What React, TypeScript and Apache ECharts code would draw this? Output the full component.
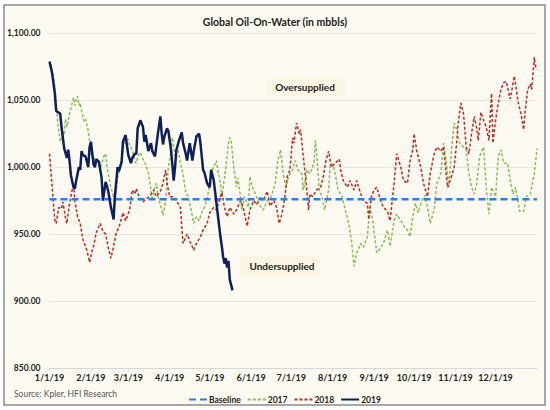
import React, { useEffect, useRef } from "react";
import * as echarts from "echarts";

const monthStartDays = [0, 31, 59, 90, 120, 151, 181, 212, 243, 273, 304, 334];
const monthLabels = ["1/1/19", "2/1/19", "3/1/19", "4/1/19", "5/1/19", "6/1/19", "7/1/19", "8/1/19", "9/1/19", "10/1/19", "11/1/19", "12/1/19"];
const yTicks = [850, 900, 950, 1000, 1050, 1100];

const baselineValue = 976;

// [day of year, mbbls]
const oil2017: [number, number][] = [
  [1, 1077], [3, 1068], [4, 1060], [5, 1048], [6, 1035], [8, 1019], [9, 1022], [10, 1027], [11, 1024], [12, 1036],
  [13, 1030], [15, 1040], [17, 1048], [18, 1052], [19, 1046], [20, 1050], [21, 1053], [22, 1046], [23, 1048], [24, 1042],
  [26, 1034], [27, 1036], [29, 1027], [30, 1020], [31, 1010], [33, 1008], [34, 1005], [36, 1003], [38, 999], [39, 1002],
  [41, 1009], [42, 1010], [43, 1000], [45, 990], [46, 985], [48, 978], [49, 973], [51, 992], [53, 1000], [54, 1007],
  [56, 1018], [57, 1019], [59, 1021], [60, 1016], [62, 1013], [64, 1004], [65, 1003], [66, 1008], [68, 1011], [70, 1006],
  [72, 1002], [74, 996], [75, 990], [77, 975], [78, 982], [80, 988], [81, 979], [83, 972], [85, 964], [87, 975],
  [89, 1000], [91, 1012], [92, 1022], [94, 1008], [96, 1015], [98, 1003], [100, 995], [102, 981], [104, 978], [106, 968],
  [108, 958], [110, 963], [112, 960], [114, 966], [116, 970], [118, 976], [120, 988], [122, 998], [125, 1005], [126, 998],
  [128, 988], [129, 978], [131, 992], [133, 1008], [134, 1018], [135, 1022], [136, 1020], [138, 1000], [140, 985], [141, 992],
  [143, 978], [144, 968], [146, 978], [149, 970], [150, 993], [152, 985], [155, 978], [157, 972], [160, 968], [163, 975],
  [166, 978], [169, 988], [171, 1005], [173, 1013], [175, 995], [177, 985], [179, 993], [182, 998], [184, 1005], [186, 998],
  [189, 995], [190, 983], [193, 998], [195, 995], [198, 1003], [199, 1020], [200, 1010], [202, 983], [204, 978], [206, 968],
  [209, 983], [210, 1000], [212, 1003], [214, 995], [216, 983], [219, 978], [221, 970], [224, 958], [226, 946], [228, 926],
  [230, 936], [233, 943], [235, 940], [238, 948], [239, 960], [240, 970], [242, 960], [245, 936], [248, 940], [250, 943],
  [253, 953], [255, 941], [258, 960], [260, 965], [263, 960], [266, 955], [268, 953], [270, 948], [272, 963], [274, 973],
  [276, 966], [279, 976], [281, 979], [283, 970], [285, 958], [288, 968], [290, 988], [293, 995], [295, 1018], [297, 1005],
  [299, 985], [301, 1013], [303, 1033], [305, 1028], [307, 1018], [310, 1015], [312, 1013], [314, 995], [316, 985], [318, 980],
  [320, 988], [322, 1008], [325, 1015], [327, 985], [329, 965], [331, 985], [334, 978], [336, 1008], [338, 1013], [340, 1003],
  [343, 1003], [345, 990], [347, 980], [349, 985], [352, 967], [355, 967], [357, 978], [360, 980], [363, 995], [365, 1014],
];

const oil2018: [number, number][] = [
  [0, 1010], [2, 985], [4, 960], [5, 958], [7, 970], [9, 969], [10, 974], [12, 962], [13, 958], [15, 973],
  [18, 988], [19, 975], [21, 963], [23, 958], [25, 946], [28, 938], [30, 929], [32, 938], [33, 941], [35, 951],
  [38, 958], [40, 952], [42, 950], [44, 940], [46, 932], [48, 941], [50, 951], [52, 955], [55, 966], [57, 960],
  [60, 968], [62, 983], [64, 980], [65, 984], [67, 978], [70, 974], [72, 976], [75, 978], [78, 983], [80, 978],
  [83, 982], [85, 988], [87, 998], [88, 988], [90, 978], [93, 978], [95, 975], [98, 970], [100, 943], [103, 950],
  [105, 945], [108, 938], [110, 943], [113, 948], [115, 953], [118, 958], [120, 966], [123, 970], [125, 968], [128, 978],
  [129, 981], [131, 970], [133, 963], [135, 970], [138, 965], [140, 968], [143, 975], [145, 970], [148, 956], [150, 968],
  [153, 975], [155, 972], [158, 978], [160, 975], [163, 982], [165, 971], [168, 975], [170, 970], [172, 958], [174, 965],
  [176, 976], [178, 993], [180, 998], [182, 1022], [183, 1018], [185, 1033], [187, 1025], [188, 1028], [190, 1008], [192, 990],
  [194, 968], [195, 980], [197, 978], [200, 983], [203, 985], [205, 993], [207, 1005], [209, 1012], [211, 1000], [214, 1003],
  [217, 1006], [218, 998], [220, 990], [223, 985], [225, 990], [228, 983], [230, 990], [233, 980], [235, 975], [238, 973],
  [239, 961], [241, 978], [243, 983], [245, 985], [248, 975], [250, 970], [253, 967], [255, 960], [258, 988], [260, 1010],
  [263, 1000], [265, 990], [268, 988], [270, 1005], [272, 1013], [273, 1025], [275, 1012], [278, 1000], [280, 988], [283, 978],
  [285, 995], [288, 1010], [290, 1015], [293, 1012], [295, 1015], [297, 995], [298, 985], [300, 990], [303, 1000], [305, 1020],
  [306, 1033], [308, 1048], [310, 1040], [312, 1015], [314, 1010], [316, 1025], [318, 1038], [320, 1028], [321, 1020], [323, 1041],
  [325, 1035], [327, 1030], [329, 1020], [331, 1055], [332, 1018], [334, 1035], [336, 1048], [338, 1058], [340, 1063], [342, 1064],
  [344, 1055], [345, 1051], [348, 1068], [349, 1062], [351, 1048], [353, 1040], [355, 1028], [356, 1040], [358, 1058], [360, 1062],
  [361, 1058], [363, 1082], [364, 1075], [365, 1073],
];

const oil2019: [number, number][] = [
  [0, 1079], [2, 1070], [4, 1055], [5, 1042], [8, 1040], [9, 1030], [11, 1014], [13, 1007], [14, 1013], [15, 1005],
  [16, 994], [18, 985], [19, 984], [20, 990], [22, 1000], [23, 998], [24, 1012], [25, 1009], [27, 1008], [29, 1000],
  [30, 1015], [31, 1019], [33, 1002], [34, 1000], [35, 1006], [37, 1004], [39, 992], [40, 975], [42, 989], [43, 986],
  [44, 982], [46, 970], [48, 961], [49, 979], [51, 1000], [52, 997], [54, 1004], [55, 1019], [57, 1024], [58, 1016],
  [59, 1009], [61, 1003], [62, 1007], [64, 1010], [65, 1010], [66, 1029], [68, 1035], [70, 1030], [71, 1019], [72, 1024],
  [74, 1012], [76, 1018], [77, 1012], [79, 1008], [81, 1024], [83, 1038], [84, 1025], [85, 1017], [86, 1023], [88, 1029],
  [89, 1027], [91, 1013], [93, 990], [94, 1000], [95, 1013], [97, 1020], [99, 1026], [100, 1018], [102, 1010], [103, 1005],
  [105, 1018], [107, 1005], [108, 1012], [110, 1023], [112, 1025], [113, 1018], [114, 1008], [115, 998], [116, 996], [118, 988],
  [120, 985], [121, 998], [123, 990], [125, 973], [128, 948], [129, 941], [130, 933], [131, 928], [132, 932], [133, 925],
  [134, 930], [135, 916], [137, 908],
];

const FONT = "Lato, 'Open Sans', sans-serif";

function fmt(v: number): string {
  const s = v.toFixed(2);
  const [i, d] = s.split(".");
  return i.replace(/\B(?=(\d{3})+(?!\d))/g, ",") + "." + d;
}

export default function App() {
  const ref = useRef<HTMLDivElement>(null);
  useEffect(() => {
    if (!ref.current) return;
    const chart = echarts.init(ref.current, null, { renderer: "svg" });
    chart.setOption({
      animation: false,
      backgroundColor: "#ffffff",
      textStyle: { fontFamily: FONT },
      title: {
        text: "Global Oil-On-Water (in mbbls)",
        left: "center",
        top: 11,
        textStyle: { fontFamily: FONT, fontSize: 10.5, fontWeight: "bold", color: "#222" },
      },
      graphic: [
        {
          type: "rect",
          z: -10,
          silent: true,
          shape: { x: 4, y: 5, width: 541, height: 400 },
          style: { fill: "#fdfbf1", stroke: "#8c8c8c", lineWidth: 1.5 },
        },
        {
          type: "rect",
          z: 5,
          shape: { x: 266, y: 78, width: 80, height: 18 },
          style: { fill: "#fbf6e4" },
        },
        {
          type: "text",
          z: 6,
          x: 305,
          y: 87,
          style: { text: "Oversupplied", fontFamily: FONT, fontSize: 10, fontWeight: "bold", fill: "#222", align: "center", verticalAlign: "middle" },
        },
        {
          type: "rect",
          z: 5,
          shape: { x: 240, y: 256, width: 80, height: 20 },
          style: { fill: "#fbf6e4" },
        },
        {
          type: "text",
          z: 6,
          x: 282,
          y: 266,
          style: { text: "Undersupplied", fontFamily: FONT, fontSize: 10, fontWeight: "bold", fill: "#222", align: "center", verticalAlign: "middle" },
        },
        {
          type: "text",
          x: 14,
          y: 394,
          style: { text: "Source: Kpler, HFI Research", fontFamily: FONT, fontSize: 8.5, fill: "#555", verticalAlign: "middle" },
        },
      ],
      legend: {
        left: 183,
        top: 390,
        itemWidth: 18,
        itemHeight: 6,
        itemGap: 6,
        itemStyle: { opacity: 0 },
        textStyle: { fontFamily: FONT, fontSize: 8.5, fontWeight: "bold", color: "#222", padding: [0, 0, 0, -3] },
        data: ["Baseline", "2017", "2018", "2019"],
      },
      grid: { left: 49.5, right: 13, top: 33.3, bottom: 42 },
      xAxis: {
        type: "value",
        min: 0,
        max: 365,
        splitLine: { show: false },
        axisLine: { lineStyle: { color: "#d8d8d8" } },
        axisTick: { show: true, length: 3, lineStyle: { color: "#d8d8d8" }, customValues: monthStartDays },
        axisLabel: {
          customValues: monthStartDays,
          formatter: (v: number) => {
            const i = monthStartDays.indexOf(Math.round(v));
            return i >= 0 ? monthLabels[i] : "";
          },
          fontFamily: FONT,
          fontSize: 9,
          fontWeight: "bold",
          color: "#222",
          margin: 5,
        },
      },
      yAxis: {
        type: "value",
        min: yTicks[0],
        max: yTicks[yTicks.length - 1],
        interval: 50,
        axisLine: { show: false },
        axisTick: { show: false },
        splitLine: { lineStyle: { color: "#e9e6dc", width: 1 } },
        axisLabel: { formatter: (v: number) => fmt(v), fontFamily: FONT, fontSize: 8.5, fontWeight: "bold", color: "#222", margin: 9 },
      },
      series: [
        {
          name: "Baseline",
          type: "line",
          symbol: "none",
          data: [[0, baselineValue], [365, baselineValue]],
          lineStyle: { color: "#3a7bd0", width: 2.5, type: [7, 4] },
          itemStyle: { color: "#3a7bd0" },
          z: 3,
        },
        {
          name: "2017",
          type: "line",
          symbol: "none",
          data: oil2017,
          lineStyle: { color: "#88bd57", width: 1.5, type: [3, 2] },
          itemStyle: { color: "#88bd57" },
          z: 2,
        },
        {
          name: "2018",
          type: "line",
          symbol: "none",
          data: oil2018,
          lineStyle: { color: "#c4271f", width: 1.5, type: [3, 2] },
          itemStyle: { color: "#c4271f" },
          z: 2,
        },
        {
          name: "2019",
          type: "line",
          symbol: "none",
          data: oil2019,
          lineStyle: { color: "#0d1f5c", width: 2.5 },
          itemStyle: { color: "#0d1f5c" },
          z: 4,
        },
      ],
    });
    return () => chart.dispose();
  }, []);
  return <div ref={ref} style={{ position: "fixed", left: 0, top: 0, width: 550, height: 410 }} />;
}
